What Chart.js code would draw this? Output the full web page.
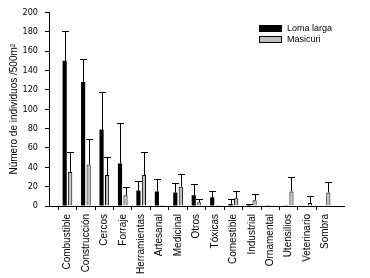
<!DOCTYPE html>
<html>
<head>
<meta charset="utf-8">
<script src="https://cdn.jsdelivr.net/npm/chart.js@4/dist/chart.umd.min.js"></script>
<style>
  body { margin: 0; background: #fff; }
</style>
</head>
<body>
<canvas id="chart" width="370" height="278"></canvas>
<script>
// data
var categories = ["Combustible", "Construcción", "Cercos", "Forraje", "Herramientas", "Artesanal",
    "Medicinal", "Otros", "Tóxicas", "Comestible", "Industrial", "Ornamental", "Utensilios",
    "Veterinario", "Sombra"];
var lomaLarga = [150, 128, 79, 44, 16, 15, 14, 11, 9, 2, 1, 0.7, 0.7, 0, 0];
var lomaLargaErr = [31, 24, 39, 42, 10, 13, 10, 12, 7, 5, 1, 0, 0, 0, 0];
var masicuri = [35, 43, 32, 11, 32, 1, 20, 4, 1, 8, 6, 0.7, 15, 3, 14];
var masicuriErr = [21, 26, 19, 9, 24, 0, 13, 3, 0, 8, 6, 0, 15, 7, 11];
var yTicks = [0, 20, 40, 60, 80, 100, 120, 140, 160, 180, 200];

var FONT = '"Liberation Sans", Arial, sans-serif';

// one empty slot on each side so the axis runs past the first and last bar
function pad(arr) {
    return [null].concat(arr, [null]);
}
var labels = [""].concat(categories, [""]);

// upward error bars, drawn on top of the bars
var errorBars = {
    id: "errorBars",
    afterDatasetsDraw: function(chart) {
        var ctx = chart.ctx;
        var yScale = chart.scales.y;
        ctx.save();
        ctx.strokeStyle = "#000";
        ctx.lineWidth = 1;
        chart.data.datasets.forEach(function(ds, di) {
            var meta = chart.getDatasetMeta(di);
            meta.data.forEach(function(bar, i) {
                var v = ds.data[i];
                var e = ds.errors[i];
                if (v == null || !e) return;
                var x = Math.round(bar.x) + 0.5;
                var yTop = Math.round(yScale.getPixelForValue(v + e)) + 0.5;
                var yBar = yScale.getPixelForValue(v);
                ctx.beginPath();
                ctx.moveTo(x, yBar);
                ctx.lineTo(x, yTop);
                ctx.moveTo(x - 3.5, yTop);
                ctx.lineTo(x + 3.5, yTop);
                ctx.stroke();
            });
        });
        ctx.restore();
    }
};

// legend in the upper right of the plot, one row per series
var boxLegend = {
    id: "boxLegend",
    afterDraw: function(chart) {
        var ctx = chart.ctx;
        ctx.save();
        ctx.font = "9px " + FONT;
        ctx.textBaseline = "middle";
        ctx.fillStyle = "#000";
        chart.data.datasets.forEach(function(ds, i) {
            var y = 25 + i * 11;
            ctx.fillStyle = ds.backgroundColor;
            ctx.fillRect(259.5, y + 0.5, 22, 6);
            ctx.strokeStyle = "#000";
            ctx.lineWidth = 1;
            ctx.strokeRect(259.5, y + 0.5, 22, 6);
            ctx.fillStyle = "#000";
            ctx.fillText(ds.label, 287, y + 3.5);
        });
        ctx.restore();
    }
};

function tickColor(c) {
    return labels[c.index] === "" ? "rgba(0,0,0,0)" : "#000";
}

new Chart(document.getElementById("chart"), {
    type: "bar",
    data: {
        labels: labels,
        datasets: [{
            label: "Loma larga",
            data: pad(lomaLarga),
            errors: pad(lomaLargaErr),
            backgroundColor: "#000000",
            borderColor: "#000000",
            borderWidth: 0,
            categoryPercentage: 0.6,
            barPercentage: 0.75
        }, {
            label: "Masicuri",
            data: pad(masicuri),
            errors: pad(masicuriErr),
            backgroundColor: "#c0c0c0",
            borderColor: "#000000",
            borderWidth: 1,
            categoryPercentage: 0.6,
            barPercentage: 0.75
        }]
    },
    options: {
        responsive: false,
        devicePixelRatio: 1,
        animation: false,
        layout: { padding: { top: 7, right: 26, bottom: 0, left: 0 } },
        plugins: {
            legend: { display: false },
            tooltip: { enabled: false }
        },
        scales: {
            x: {
                offset: false,
                grid: { drawOnChartArea: false, tickLength: 4, tickColor: tickColor },
                border: { color: "#000", width: 1 },
                ticks: {
                    autoSkip: false,
                    minRotation: 90,
                    maxRotation: 90,
                    padding: 4,
                    color: "#000",
                    font: { family: FONT, size: 10 }
                },
                afterFit: function(scale) { scale.height = 72; }
            },
            y: {
                min: 0,
                max: 200,
                afterBuildTicks: function(scale) {
                    scale.ticks = yTicks.map(function(v) { return { value: v }; });
                },
                grid: { drawOnChartArea: false, tickLength: 4, tickColor: "#000" },
                border: { color: "#000", width: 1 },
                ticks: {
                    padding: 7,
                    color: "#000",
                    font: { family: '"Liberation Sans Narrow", "DejaVu Sans Condensed", ' + FONT, size: 9 }
                },
                title: {
                    display: true,
                    text: "Número de individuos /500m²",
                    color: "#000",
                    padding: { top: 8, bottom: 0 },
                    font: { family: FONT, size: 10 }
                },
                afterFit: function(scale) { scale.width = 49; }
            }
        }
    },
    plugins: [errorBars, boxLegend]
});
</script>
</body>
</html>
